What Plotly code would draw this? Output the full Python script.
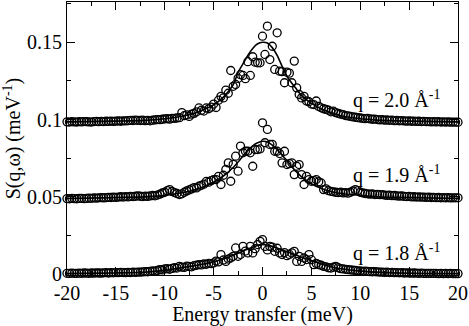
import plotly.graph_objects as go

# Energy grid of the measured points (meV)
energy = [
    -20.0, -19.75, -19.5, -19.25, -19.0, -18.75, -18.5, -18.25,
    -18.0, -17.75, -17.5, -17.25, -17.0, -16.75, -16.5, -16.25,
    -16.0, -15.75, -15.5, -15.25, -15.0, -14.75, -14.5, -14.25,
    -14.0, -13.75, -13.5, -13.25, -13.0, -12.75, -12.5, -12.25,
    -12.0, -11.75, -11.5, -11.25, -11.0, -10.75, -10.5, -10.25,
    -10.0, -9.75, -9.5, -9.25, -9.0, -8.75, -8.5, -8.25,
    -8.0, -7.75, -7.5, -7.25, -7.0, -6.75, -6.5, -6.25,
    -6.0, -5.75, -5.5, -5.25, -5.0, -4.75, -4.5, -4.25,
    -4.0, -3.75, -3.5, -3.25, -3.0, -2.75, -2.5, -2.25,
    -2.0, -1.75, -1.5, -1.25, -1.0, -0.75, -0.5, -0.25,
    0.0, 0.25, 0.5, 0.75, 1.0, 1.25, 1.5, 1.75,
    2.0, 2.25, 2.5, 2.75, 3.0, 3.25, 3.5, 3.75,
    4.0, 4.25, 4.5, 4.75, 5.0, 5.25, 5.5, 5.75,
    6.0, 6.25, 6.5, 6.75, 7.0, 7.25, 7.5, 7.75,
    8.0, 8.25, 8.5, 8.75, 9.0, 9.25, 9.5, 9.75,
    10.0, 10.25, 10.5, 10.75, 11.0, 11.25, 11.5, 11.75,
    12.0, 12.25, 12.5, 12.75, 13.0, 13.25, 13.5, 13.75,
    14.0, 14.25, 14.5, 14.75, 15.0, 15.25, 15.5, 15.75,
    16.0, 16.25, 16.5, 16.75, 17.0, 17.25, 17.5, 17.75,
    18.0, 18.25, 18.5, 18.75, 19.0, 19.25, 19.5, 19.75,
    20.0,
]

# S(q,w) data, q = 2.0 (shifted by 0.1)
s_q20 = [
    0.0985, 0.0984, 0.0986, 0.0985, 0.0984, 0.0986, 0.0985, 0.0987,
    0.0986, 0.0985, 0.0984, 0.0987, 0.0988, 0.0986, 0.0988, 0.0987,
    0.0989, 0.0988, 0.0990, 0.0988, 0.0990, 0.0991, 0.0989, 0.0992,
    0.0991, 0.0993, 0.0995, 0.0994, 0.0996, 0.0995, 0.0994, 0.0996,
    0.0993, 0.0995, 0.0992, 0.0996, 0.0998, 0.1000, 0.0999, 0.1002,
    0.1004, 0.1006, 0.1003, 0.1008, 0.1007, 0.1010, 0.1012, 0.1045,
    0.1025, 0.1030, 0.1020, 0.1035, 0.1040, 0.1050, 0.1075, 0.1060,
    0.1055, 0.1075, 0.1070, 0.1080, 0.1100, 0.1078, 0.1125, 0.1150,
    0.1140, 0.1190, 0.1170, 0.1317, 0.1215, 0.1227, 0.1266, 0.1290,
    0.1285, 0.1264, 0.1374, 0.1285, 0.1406, 0.1371, 0.1367, 0.1367,
    0.1539, 0.1421, 0.1604, 0.1388, 0.1474, 0.1324, 0.1561, 0.1313,
    0.1310, 0.1238, 0.1306, 0.1300, 0.1238, 0.1378, 0.1205, 0.1162,
    0.1140, 0.1150, 0.1120, 0.1115, 0.1100, 0.1097, 0.1120, 0.1085,
    0.1076, 0.1070, 0.1066, 0.1060, 0.1050, 0.1054, 0.1045, 0.1040,
    0.1035, 0.1032, 0.1026, 0.1024, 0.1020, 0.1017, 0.1015, 0.1012,
    0.1010, 0.1008, 0.1006, 0.1007, 0.1004, 0.1002, 0.1003, 0.1000,
    0.0998, 0.0999, 0.0996, 0.0997, 0.0995, 0.0996, 0.0993, 0.0994,
    0.0992, 0.0993, 0.0991, 0.0990, 0.0991, 0.0989, 0.0990, 0.0988,
    0.0989, 0.0987, 0.0988, 0.0986, 0.0987, 0.0985, 0.0986, 0.0985,
    0.0986, 0.0984, 0.0985, 0.0984, 0.0985, 0.0983, 0.0984, 0.0983,
    0.0983,
]

# q = 1.9 (shifted by 0.05)
s_q19 = [
    0.0489, 0.0488, 0.0490, 0.0489, 0.0488, 0.0490, 0.0491, 0.0489,
    0.0490, 0.0492, 0.0491, 0.0493, 0.0492, 0.0494, 0.0495, 0.0493,
    0.0495, 0.0497, 0.0496, 0.0498, 0.0497, 0.0499, 0.0501, 0.0499,
    0.0502, 0.0500, 0.0503, 0.0502, 0.0504, 0.0506, 0.0504, 0.0502,
    0.0505, 0.0503, 0.0506, 0.0509, 0.0507, 0.0512, 0.0518, 0.0525,
    0.0530, 0.0540, 0.0547, 0.0535, 0.0528, 0.0522, 0.0515, 0.0520,
    0.0530, 0.0538, 0.0545, 0.0552, 0.0560, 0.0558, 0.0569, 0.0575,
    0.0582, 0.0600, 0.0595, 0.0605, 0.0612, 0.0612, 0.0633, 0.0580,
    0.0640, 0.0677, 0.0720, 0.0601, 0.0710, 0.0763, 0.0666, 0.0828,
    0.0785, 0.0795, 0.0795, 0.0785, 0.0698, 0.0806, 0.0806, 0.0810,
    0.0979, 0.0850, 0.0936, 0.0839, 0.0840, 0.0795, 0.0795, 0.0780,
    0.0720, 0.0795, 0.0709, 0.0715, 0.0720, 0.0644, 0.0698, 0.0709,
    0.0644, 0.0580, 0.0633, 0.0612, 0.0601, 0.0605, 0.0612, 0.0598,
    0.0590, 0.0547, 0.0552, 0.0540, 0.0536, 0.0533, 0.0530, 0.0528,
    0.0530, 0.0526, 0.0528, 0.0524, 0.0530, 0.0538, 0.0547, 0.0540,
    0.0530, 0.0526, 0.0522, 0.0520, 0.0518, 0.0519, 0.0515, 0.0516,
    0.0514, 0.0515, 0.0512, 0.0510, 0.0511, 0.0508, 0.0509, 0.0506,
    0.0505, 0.0506, 0.0503, 0.0502, 0.0503, 0.0500, 0.0501, 0.0499,
    0.0500, 0.0498, 0.0499, 0.0497, 0.0498, 0.0496, 0.0497, 0.0495,
    0.0496, 0.0494, 0.0495, 0.0494, 0.0495, 0.0493, 0.0494, 0.0494,
    0.0494,
]

# q = 1.8 (no shift)
s_q18 = [
    0.0006, 0.0005, 0.0007, 0.0006, 0.0005, 0.0007, 0.0006, 0.0008,
    0.0007, 0.0006, 0.0008, 0.0007, 0.0009, 0.0008, 0.0007, 0.0009,
    0.0010, 0.0008, 0.0010, 0.0009, 0.0011, 0.0010, 0.0012, 0.0011,
    0.0010, 0.0012, 0.0011, 0.0013, 0.0012, 0.0014, 0.0013, 0.0015,
    0.0017, 0.0016, 0.0019, 0.0021, 0.0020, 0.0024, 0.0030, 0.0028,
    0.0034, 0.0036, 0.0032, 0.0038, 0.0042, 0.0040, 0.0051, 0.0046,
    0.0044, 0.0052, 0.0050, 0.0048, 0.0055, 0.0058, 0.0062, 0.0060,
    0.0066, 0.0064, 0.0070, 0.0068, 0.0073, 0.0085, 0.0080, 0.0127,
    0.0092, 0.0083, 0.0098, 0.0105, 0.0116, 0.0170, 0.0116, 0.0127,
    0.0180, 0.0150, 0.0138, 0.0180, 0.0138, 0.0165, 0.0192, 0.0213,
    0.0224, 0.0180, 0.0157, 0.0180, 0.0175, 0.0148, 0.0168, 0.0138,
    0.0127, 0.0140, 0.0120, 0.0128, 0.0138, 0.0148, 0.0083, 0.0116,
    0.0083, 0.0105, 0.0095, 0.0127, 0.0094, 0.0062, 0.0070, 0.0062,
    0.0058, 0.0051, 0.0048, 0.0042, 0.0040, 0.0045, 0.0051, 0.0042,
    0.0036, 0.0034, 0.0032, 0.0030, 0.0028, 0.0026, 0.0025, 0.0022,
    0.0021, 0.0019, 0.0020, 0.0018, 0.0017, 0.0016, 0.0017, 0.0015,
    0.0014, 0.0013, 0.0012, 0.0013, 0.0011, 0.0012, 0.0010, 0.0011,
    0.0009, 0.0010, 0.0008, 0.0009, 0.0008, 0.0007, 0.0008, 0.0007,
    0.0006, 0.0007, 0.0006, 0.0005, 0.0006, 0.0005, 0.0006, 0.0005,
    0.0004, 0.0005, 0.0004, 0.0005, 0.0004, 0.0005, 0.0004, 0.0004,
    0.0004,
]

# Fitted curves
fit_e = [-20, -15, -12, -10, -8, -7, -6, -5, -4, -3, -2.5, -2, -1.5, -1, -0.5, 0,
         0.5, 1, 1.5, 2, 2.5, 3, 3.5, 4, 5, 6, 7, 8, 10, 12, 15, 20]
fit_q20 = [0.0985, 0.0990, 0.0995, 0.1005, 0.1025, 0.1040, 0.1065, 0.1095,
           0.1145, 0.1225, 0.1305, 0.1360, 0.1415, 0.1460, 0.1490, 0.1500,
           0.1495, 0.1465, 0.1415, 0.1345, 0.1280, 0.1235, 0.1195, 0.1155,
           0.1105, 0.1070, 0.1045, 0.1025, 0.1005, 0.0995, 0.0990, 0.0985]
fit_q19 = [0.0490, 0.0495, 0.0500, 0.0510, 0.0530, 0.0545, 0.0565, 0.0595,
           0.0635, 0.0690, 0.0725, 0.0765, 0.0800, 0.0830, 0.0850, 0.0860,
           0.0855, 0.0835, 0.0805, 0.0770, 0.0735, 0.0695, 0.0660, 0.0630,
           0.0585, 0.0555, 0.0535, 0.0522, 0.0510, 0.0500, 0.0495, 0.0490]
fit_q18 = [0.0004, 0.0008, 0.0013, 0.0025, 0.0045, 0.0055, 0.0066, 0.0080,
           0.0098, 0.0122, 0.0135, 0.0150, 0.0163, 0.0175, 0.0186, 0.0193,
           0.0188, 0.0180, 0.0170, 0.0158, 0.0147, 0.0135, 0.0122, 0.0110,
           0.0088, 0.0066, 0.0048, 0.0035, 0.0020, 0.0012, 0.0006, 0.0004]

x_ticks = [-20, -15, -10, -5, 0, 5, 10, 15, 20]
x_ticktext = ["-20", "-15", "-10", "-5", "0", "5", "10", "15", "20"]
y_ticks = [0, 0.05, 0.1, 0.15]
y_ticktext = ["0", "0.05", "0.1", "0.15"]

labels = ["q = 2.0 Å<sup>-1</sup>", "q = 1.9 Å<sup>-1</sup>", "q = 1.8 Å<sup>-1</sup>"]
label_y = [0.113, 0.0645, 0.0138]

FONT = "Liberation Serif"

fig = go.Figure()

for s, fit in [(s_q20, fit_q20), (s_q19, fit_q19), (s_q18, fit_q18)]:
    fig.add_trace(go.Scatter(
        x=energy, y=s, mode='markers',
        marker=dict(symbol='circle-open', size=8, color='black', line=dict(width=1.3, color='black')),
        showlegend=False, cliponaxis=False))
    fig.add_trace(go.Scatter(
        x=fit_e, y=fit, mode='lines',
        line=dict(color='black', width=1.6, shape='spline', smoothing=0.8),
        showlegend=False))

for txt, y in zip(labels, label_y):
    fig.add_annotation(x=9.1, y=y, text=txt, showarrow=False, xanchor='left', yanchor='middle',
                       font=dict(family=FONT, size=20, color='black'))

axis_common = dict(
    showline=True, linecolor='black', linewidth=1, mirror='allticks',
    ticks='inside', ticklen=8, tickwidth=1, tickcolor='black',
    showgrid=False, zeroline=False, automargin=False,
    tickfont=dict(family=FONT, size=20, color='black'),
)

fig.update_xaxes(range=[-20, 20], tickvals=x_ticks, ticktext=x_ticktext,
                 minor=dict(dtick=2.5, ticks='inside', ticklen=4, tickcolor='black'),
                 title=dict(text='Energy transfer (meV)', font=dict(family=FONT, size=20, color='black'),
                            standoff=2),
                 **axis_common)
fig.update_yaxes(range=[-0.0005, 0.176], tickvals=y_ticks, ticktext=y_ticktext,
                 minor=dict(dtick=0.025, ticks='inside', ticklen=4, tickcolor='black'),
                 title=dict(text='S(q,ω) (meV<sup>-1</sup>)', font=dict(family=FONT, size=20, color='black'),
                            standoff=2),
                 **axis_common)

fig.update_layout(
    width=469, height=326,
    margin=dict(l=67, r=11, t=2, b=51),
    plot_bgcolor='white', paper_bgcolor='white',
    font=dict(family=FONT, color='black'),
)

fig.write_html("out.html", config={'displayModeBar': False},
               post_script="document.body.style.margin='0';")
